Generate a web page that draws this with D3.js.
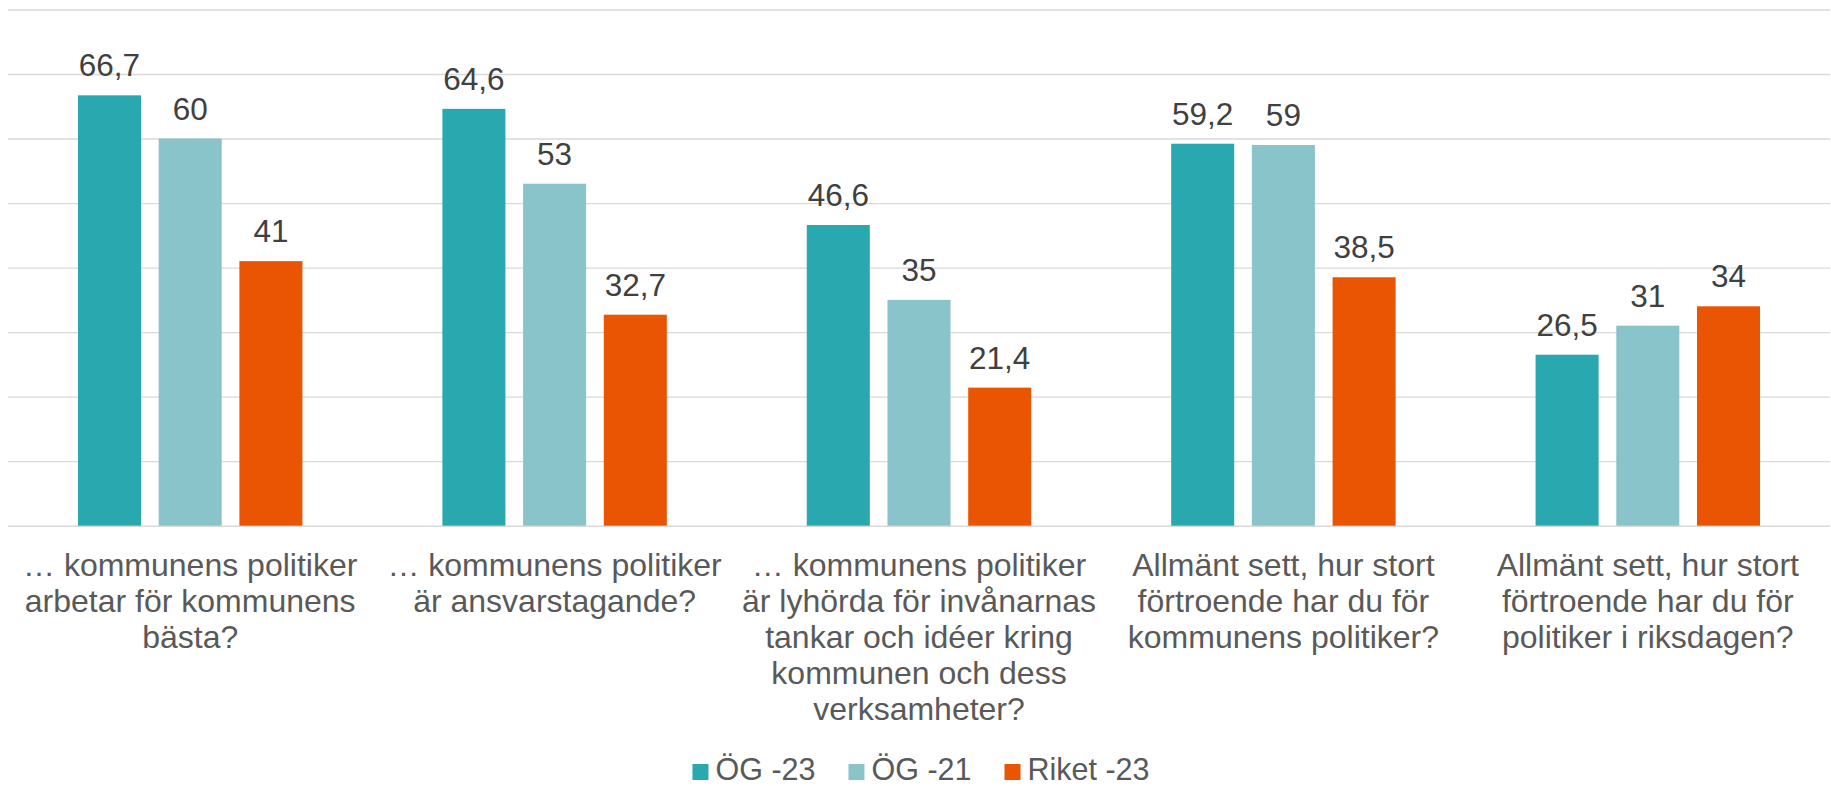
<!DOCTYPE html>
<html>
<head>
<meta charset="utf-8">
<script src="https://cdn.jsdelivr.net/npm/d3@7"></script>
<style>
  html, body { margin: 0; padding: 0; background: #ffffff; }
  svg { display: block; }
  text { font-family: "Liberation Sans", Arial, sans-serif; }
</style>
</head>
<body>
<div id="chart"></div>
<script>
// ---- data ----
const categories = [
  ["… kommunens politiker", "arbetar för kommunens", "bästa?"],
  ["… kommunens politiker", "är ansvarstagande?"],
  ["… kommunens politiker", "är lyhörda för invånarnas", "tankar och idéer kring", "kommunen och dess", "verksamheter?"],
  ["Allmänt sett, hur stort", "förtroende har du för", "kommunens politiker?"],
  ["Allmänt sett, hur stort", "förtroende har du för", "politiker i riksdagen?"]
];
const seriesNames = ["ÖG -23", "ÖG -21", "Riket -23"];
const og23 = [66.7, 64.6, 46.6, 59.2, 26.5];
const og21 = [60, 53, 35, 59, 31];
const riket23 = [41, 32.7, 21.4, 38.5, 34];
const yTicks = [0, 10, 20, 30, 40, 50, 60, 70, 80];
const colors = ["#2AA8AF", "#8AC4CB", "#EA5504"];

// ---- layout ----
const W = 1831, H = 786;
const plotLeft = 8, plotRight = 1830, plotTop = 9.5, plotBottom = 525.7;

const svg = d3.select("#chart").append("svg").attr("width", W).attr("height", H);

const x0 = d3.scaleBand().domain(d3.range(categories.length)).range([plotLeft, plotRight]).paddingInner(0).paddingOuter(0);
const x1 = d3.scaleBand().domain(seriesNames).range([0, x0.bandwidth()]).paddingInner(0.219).paddingOuter(0.867);
const y = d3.scaleLinear().domain([0, 80]).range([plotBottom, plotTop]);
const color = d3.scaleOrdinal().domain(seriesNames).range(colors);

// gridlines
const grid = svg.append("g").attr("transform", `translate(${plotLeft},0)`)
  .call(d3.axisLeft(y).tickValues(yTicks).tickSize(-(plotRight - plotLeft)).tickFormat(""));
grid.select(".domain").remove();
grid.selectAll(".tick line").attr("stroke", "#D9D9D9").attr("stroke-width", 1.4);

// bars
const seriesData = [og23, og21, riket23];
const rows = categories.map((c, i) => ({ i, values: seriesNames.map((s, k) => ({ key: s, value: seriesData[k][i] })) }));
const fmt = v => String(v).replace(".", ",");

const groups = svg.append("g").selectAll("g").data(rows).join("g")
  .attr("transform", d => `translate(${x0(d.i)},0)`);

groups.selectAll("rect").data(d => d.values).join("rect")
  .attr("x", d => x1(d.key))
  .attr("width", x1.bandwidth())
  .attr("y", d => y(d.value))
  .attr("height", d => y(0) - y(d.value))
  .attr("fill", d => color(d.key));

groups.selectAll("text.val").data(d => d.values).join("text")
  .attr("class", "val")
  .attr("x", d => x1(d.key) + x1.bandwidth() / 2)
  .attr("y", d => y(d.value) - 19)
  .attr("text-anchor", "middle")
  .attr("font-size", "31.5px")
  .attr("fill", "#404040")
  .text(d => fmt(d.value));

// category labels
const labels = svg.append("g").selectAll("text").data(rows).join("text")
  .attr("x", d => x0(d.i) + x0.bandwidth() / 2)
  .attr("y", 575.5)
  .attr("text-anchor", "middle")
  .attr("font-size", "32px")
  .attr("fill", "#595959");
labels.each(function(d) {
  const t = d3.select(this);
  categories[d.i].forEach((line, j) => {
    t.append("tspan").attr("x", x0(d.i) + x0.bandwidth() / 2).attr("dy", j === 0 ? 0 : 36.2).text(line);
  });
});

// legend
const legend = svg.append("g");
const items = legend.selectAll("g").data(seriesNames).join("g");
items.append("rect").attr("width", 16).attr("height", 16).attr("y", 764).attr("fill", d => color(d));
items.append("text").attr("x", 23).attr("y", 779.5).attr("font-size", "30.5px").attr("fill", "#595959").text(d => d);
let xpos = 0;
const widths = [];
items.each(function() {
  const tw = d3.select(this).select("text").node().getComputedTextLength();
  widths.push(23 + tw);
});
const gap = 33;
const total = d3.sum(widths) + gap * (widths.length - 1);
xpos = (plotLeft + plotRight) / 2 - total / 2 + 2;
items.each(function(d, i) {
  d3.select(this).attr("transform", `translate(${xpos},0)`);
  xpos += widths[i] + gap;
});
</script>
</body>
</html>
